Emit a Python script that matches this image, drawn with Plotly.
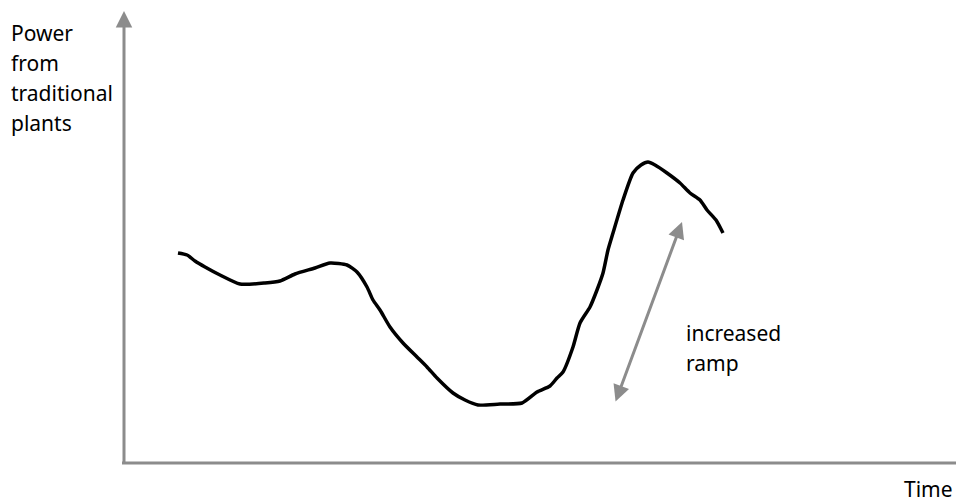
import plotly.graph_objects as go

# Hand-drawn curve, arbitrary units (time, power)
time = [54, 63, 71, 81, 96, 116, 141, 156, 171, 191, 206, 223, 233, 243, 249, 256, 266, 279,
        293, 303, 313, 329, 341, 354, 376, 398, 413, 426, 433, 439, 449, 456, 466, 473, 479,
        484, 489, 499, 509, 517, 524, 531, 543, 556, 566, 576, 583, 592, 599]
power = [210, 208, 202, 196, 188, 179, 180, 182, 189, 195, 200, 198, 191, 176, 163, 153, 136, 120,
         106, 96, 85, 70, 63, 58, 59, 60, 71, 77, 85, 91, 116, 140, 156, 173, 190,
         213, 230, 263, 290, 298, 301, 298, 290, 280, 270, 263, 253, 243, 230]

ramp_start = (491, 60)
ramp_end = (558, 241)

y_label_lines = ["Power", "from", "traditional", "plants"]
x_label = "Time"
ramp_label = ["increased", "ramp"]

axis_color = "#8c8c8c"
font_family = "Noto Sans, Open Sans, sans-serif"

fig = go.Figure()
fig.add_trace(go.Scatter(x=time, y=power, mode="lines",
                         line=dict(color="black", width=3.5, shape="spline", smoothing=0.6),
                         hoverinfo="skip", showlegend=False))

# x axis line
fig.add_shape(type="line", x0=-2, y0=0, x1=845, y1=0, xref="x", yref="y",
              line=dict(color=axis_color, width=3))

annotations = []
# y axis with arrow
annotations.append(dict(x=0, y=452, ax=0, ay=-2, xref="x", yref="y", axref="x", ayref="y",
                        showarrow=True, arrowhead=2, arrowsize=1.1, arrowwidth=3,
                        arrowcolor=axis_color, text="", standoff=0, startstandoff=0))
# double-headed ramp arrow
annotations.append(dict(x=ramp_end[0], y=ramp_end[1], ax=ramp_start[0], ay=ramp_start[1],
                        xref="x", yref="y", axref="x", ayref="y",
                        showarrow=True, arrowhead=2, startarrowhead=2, arrowside="end+start",
                        arrowsize=1.1, startarrowsize=1.1, arrowwidth=3,
                        arrowcolor=axis_color, text="", standoff=0, startstandoff=0))

font = dict(family=font_family, size=21, color="black")
for i, t in enumerate(y_label_lines):
    annotations.append(dict(x=9 - 124, y=463 - (33 + 30 * i), xref="x", yref="y",
                            text=t, showarrow=False, xanchor="left", yanchor="middle", font=font))

for i, t in enumerate(ramp_label):
    annotations.append(dict(x=684 - 124, y=463 - (333 + 30 * i), xref="x", yref="y",
                            text=t, showarrow=False, xanchor="left", yanchor="middle", font=font))

annotations.append(dict(x=955 - 124, y=463 - 489, xref="x", yref="y", text=x_label,
                        showarrow=False, xanchor="right", yanchor="middle", font=font))

# page body has an 8px margin, so the figure is offset by 8px
fig.update_layout(
    width=956, height=495,
    margin=dict(l=0, r=0, t=0, b=0),
    paper_bgcolor="white", plot_bgcolor="white",
    xaxis=dict(range=[-116, 840], visible=False, fixedrange=True),
    yaxis=dict(range=[-40, 455], visible=False, fixedrange=True),
    annotations=annotations,
    showlegend=False,
)

fig.write_html("out.html")
